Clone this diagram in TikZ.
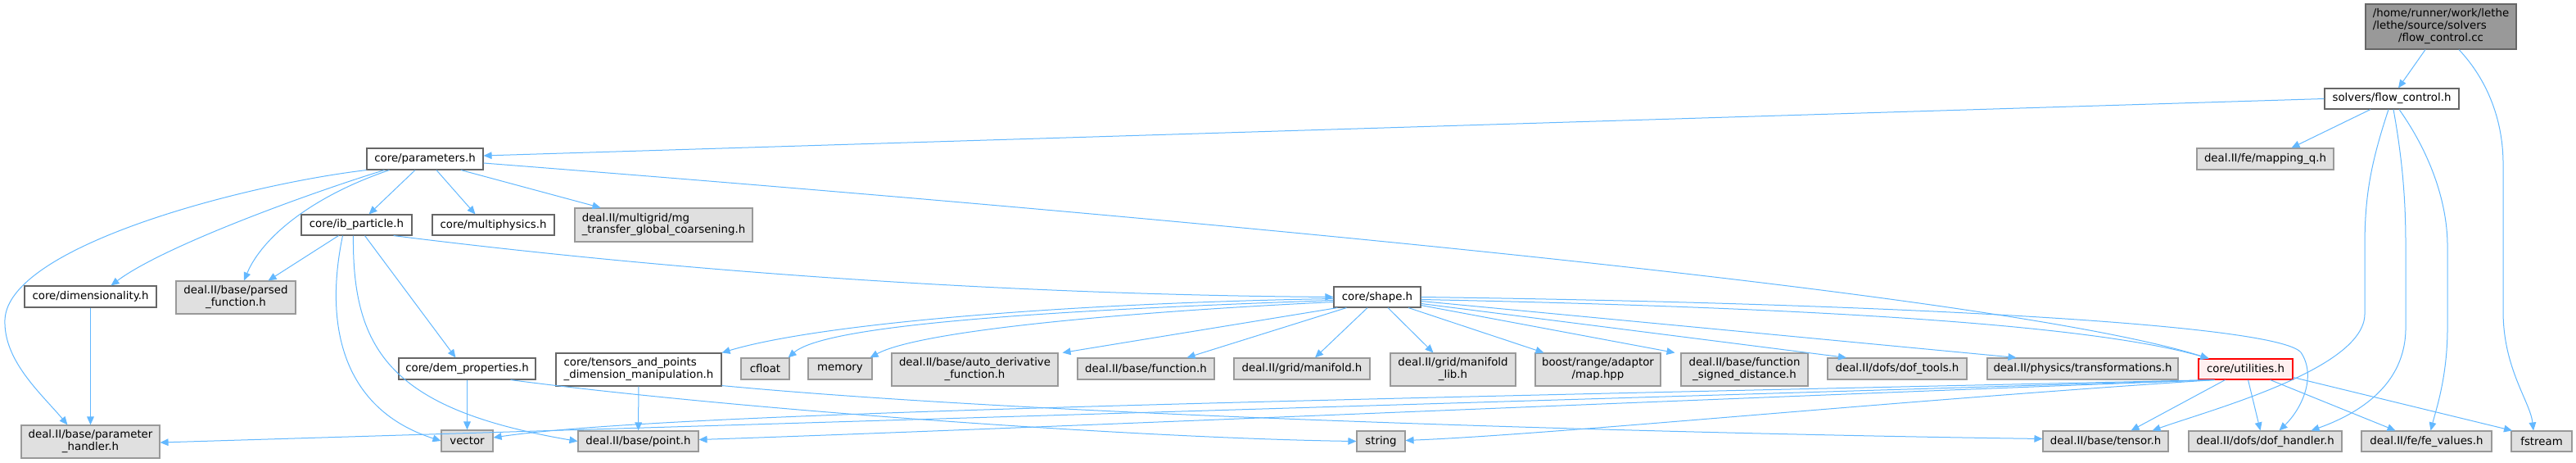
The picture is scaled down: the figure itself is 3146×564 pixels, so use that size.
\documentclass[tikz,border=0pt]{standalone}
\usepackage{fontspec}
\setmainfont{DejaVu Sans}
\usepackage{tikz}
\usetikzlibrary{arrows.meta, calc}
\usepackage{xcolor}

\definecolor{edgeblue}{HTML}{63B8FF}
\definecolor{boxgray}{HTML}{E0E0E0}
\definecolor{rootgray}{HTML}{999999}
\definecolor{lightred}{HTML}{FFF0F0}
\renewcommand{\arraystretch}{0.92}
\newcommand{\twol}[2]{\begin{tabular}{@{}l@{}}#1\\\multicolumn{1}{@{}c@{}}{#2}\end{tabular}}

\begin{document}
\begin{tikzpicture}[
  x=0.75pt, y=-0.75pt,
  dims/.style 2 args = {minimum width=#1*0.75pt, minimum height=#2*0.75pt},
  hdr/.style  = {draw=black!60, fill=white, line width=0.85pt, inner sep=0pt,
                 font=\fontsize{10}{12}\selectfont},
  ext/.style  = {hdr, draw=rootgray, fill=boxgray},
  root/.style = {hdr, draw=black!60, fill=rootgray},
  cut/.style  = {hdr, draw=red, fill=lightred},
  arr/.style  = {-{Triangle[length=7.5pt, width=6.5pt]}, draw=edgeblue, line width=0.75pt},
]
\useasboundingbox (0,0) rectangle (3146,564);

% ── Source file and its header ───────────────────────────────────────────────
\node[root, dims={184}{55}] (src) at (2981,32.5)
  {\begin{tabular}{@{}l@{}}/home/runner/work/lethe\\/lethe/source/solvers\\\multicolumn{1}{@{}c@{}}{/flow\_control.cc}\end{tabular}};
\node[hdr, dims={164}{25}] (flowh)    at (2921,120.5) {solvers/flow\_control.h};
\node[ext, dims={167}{26}] (mappingq) at (2766.5,194) {deal.II/fe/mapping\_q.h};

% ── Second and third rows ────────────────────────────────────────────────────
\node[hdr, dims={142}{26}] (params)   at (519,194)    {core/parameters.h};
\node[hdr, dims={135}{25}] (ibpart)   at (435.5,274.5) {core/ib\_particle.h};
\node[hdr, dims={149}{25}] (multiph)  at (602.5,274.5) {core/multiphysics.h};
\node[ext, dims={217}{41}] (mgtrans)  at (810.5,274.5)
  {\twol{deal.II/multigrid/mg}{\_transfer\_global\_coarsening.h}};
\node[hdr, dims={161}{26}] (dimen)    at (110.5,362)  {core/dimensionality.h};
\node[ext, dims={146}{40}] (parsedfn) at (288,363)    {\twol{deal.II/base/parsed}{\_function.h}};
\node[hdr, dims={106}{25}] (shape)    at (1682,362.5) {core/shape.h};

% ── Fourth row ───────────────────────────────────────────────────────────────
\node[hdr, dims={167}{26}] (demprop)     at (570.5,450)  {core/dem\_properties.h};
\node[hdr, dims={202}{40}] (tensorpts)   at (780,451)
  {\twol{core/tensors\_and\_points}{\_dimension\_manipulation.h}};
\node[ext, dims={59}{26}]  (cfloat)      at (934.5,450)  {cfloat};
\node[ext, dims={78}{26}]  (memory)      at (1026,450)   {memory};
\node[ext, dims={203}{40}] (autoderiv)   at (1190.5,451) {\twol{deal.II/base/auto\_derivative}{\_function.h}};
\node[ext, dims={167}{26}] (function)    at (1399.5,450) {deal.II/base/function.h};
\node[ext, dims={166}{26}] (manifold)    at (1590,450)   {deal.II/grid/manifold.h};
\node[ext, dims={153}{40}] (manifoldlib) at (1774.5,451) {\twol{deal.II/grid/manifold}{\_lib.h}};
\node[ext, dims={153}{40}] (boostmap)    at (1951.5,451) {\twol{boost/range/adaptor}{/map.hpp}};
\node[ext, dims={155}{40}] (signeddist)  at (2130.5,451) {\twol{deal.II/base/function}{\_signed\_distance.h}};
\node[ext, dims={170}{26}] (doftools)    at (2317,450)   {deal.II/dofs/dof\_tools.h};
\node[ext, dims={233}{26}] (transf)      at (2543.5,450) {deal.II/physics/transformations.h};
\node[cut, dims={115}{25}] (utilities)   at (2742.5,450.5) {core/utilities.h};

% ── Bottom row ───────────────────────────────────────────────────────────────
\node[ext, dims={169}{40}] (paramhandler) at (110.5,539)   {\twol{deal.II/base/parameter}{\_handler.h}};
\node[ext, dims={63}{26}]  (vector)       at (570.5,538)   {vector};
\node[ext, dims={147}{25}] (point)        at (779.5,538.5) {deal.II/base/point.h};
\node[ext, dims={59}{25}]  (string)       at (1686.5,538.5) {string};
\node[ext, dims={153}{25}] (tensor)       at (2571.5,538.5) {deal.II/base/tensor.h};
\node[ext, dims={187}{25}] (dofhandler)   at (2766.5,538.5) {deal.II/dofs/dof\_handler.h};
\node[ext, dims={159}{25}] (fevalues)     at (2963.5,538.5) {deal.II/fe/fe\_values.h};
\node[ext, dims={74}{25}]  (fstream)      at (3104,538.5)  {fstream};

% ── Edges from the source file and flow_control.h ────────────────────────────
\draw[arr] ($(src.south)+(-19,0)$) -- ($(flowh.north)+(8,0)$);
\draw[arr] ($(src.south)+(22,0)$) .. controls (3040,100) and (3057,150) .. (3057,200)
  -- (3057,380) .. controls (3057,450) and (3090,490) .. ($(fstream.north)+(-10,0)$);
\draw[arr] (flowh.west) -- ($(params.east)+(0,-4)$);
\draw[arr] ($(flowh.south)+(-26,0)$) -- ($(mappingq.north)+(32,0)$);
\draw[arr] ($(flowh.south)+(-4,0)$) .. controls (2895,200) and (2888,240) .. (2888,300)
  -- (2888,383) .. controls (2888,450) and (2700,500) .. ($(tensor.north)+(57,0)$);
\draw[arr] ($(flowh.south)+(2,0)$) .. controls (2935,200) and (2938,250) .. (2938,300)
  -- (2938,400) .. controls (2938,470) and (2880,505) .. ($(dofhandler.north)+(56,0)$);
\draw[arr] ($(flowh.south)+(9,0)$) .. controls (2970,190) and (2989,250) .. (2989,300)
  -- (2989,400) .. controls (2989,460) and (2975,500) .. ($(fevalues.north)+(5,0)$);

% ── Edges from core/parameters.h ─────────────────────────────────────────────
\draw[arr] (params.south west) .. controls (300,225) and (10,300) .. (6,390)
  .. controls (4,440) and (50,480) .. ($(paramhandler.north)+(-28,0)$);
\draw[arr] ($(params.south west)+(22,0)$) .. controls (380,235) and (200,300) .. ($(dimen.north)+(25,0)$);
\draw[arr] ($(params.south west)+(28,0)$) .. controls (380,240) and (320,290) .. ($(parsedfn.north)+(10,0)$);
\draw[arr] ($(params.south)+(-12,0)$) -- ($(ibpart.north)+(15,0)$);
\draw[arr] ($(params.south)+(14,0)$)  -- ($(multiph.north)+(-22,0)$);
\draw[arr] ($(params.south)+(44,0)$)  -- ($(mgtrans.north)+(-77,0)$);
\draw[arr] ($(params.east)+(0,5)$) .. controls (1500,270) and (2450,360) .. ($(utilities.north)+(-45,0)$);

% ── Edges from core/ib_particle.h ────────────────────────────────────────────
\draw[arr] ($(ibpart.south)+(-22,0)$) -- ($(parsedfn.north east)+(-34,0)$);
\draw[arr] ($(ibpart.south)+(-17,0)$) .. controls (395,400) and (420,500) .. (vector.west);
\draw[arr] ($(ibpart.south)+(-4,0)$)  .. controls (430,430) and (480,500) .. (point.west);
\draw[arr] ($(ibpart.south)+(10,0)$)  -- ($(demprop.north)+(-14,0)$);
\draw[arr] ($(ibpart.south east)+(-23,0)$) .. controls (900,340) and (1300,360) .. (shape.west);

% ── Short vertical edges ─────────────────────────────────────────────────────
\draw[arr] (dimen) -- (paramhandler);
\draw[arr] (demprop) -- (vector);
\draw[arr] (tensorpts) -- (point);
\draw[arr] ($(demprop.south east)+(-31,0)$) .. controls (900,500) and (1400,535) .. (string.west);
\draw[arr] ($(tensorpts.south east)+(0,-1)$) .. controls (1300,510) and (2100,530) .. ($(tensor.west)+(0,-3)$);

% ── Edges from core/shape.h ──────────────────────────────────────────────────
\draw[arr] ($(shape.west)+(0,2)$) .. controls (1300,370) and (1000,395) .. (tensorpts.north east);
\draw[arr] ($(shape.west)+(0,4)$) .. controls (1300,378) and (1010,395) .. ($(cfloat.north east)+(-2,0)$);
\draw[arr] ($(shape.west)+(0,6)$) .. controls (1350,382) and (1120,405) .. ($(memory.north east)+(-3,0)$);
\draw[arr] ($(shape.south west)+(5,0)$)  -- ($(autoderiv.north east)+(5,0)$);
\draw[arr] ($(shape.south west)+(16,0)$) -- ($(function.north)+(50,0)$);
\draw[arr] ($(shape.south)+(-12,0)$) -- ($(manifold.north)+(16,0)$);
\draw[arr] ($(shape.south)+(13,0)$)  -- ($(manifoldlib.north)+(-24,0)$);
\draw[arr] ($(shape.south)+(38,0)$)  -- ($(boostmap.north)+(-66,0)$);
\draw[arr] ($(shape.south east)+(0,-3)$) -- ($(signeddist.north)+(-85,0)$);
\draw[arr] ($(shape.east)+(0,8)$) -- ($(doftools.north)+(-62,0)$);
\draw[arr] ($(shape.east)+(0,5)$) -- ($(transf.north)+(-81,0)$);
\draw[arr] ($(shape.east)+(0,3)$) .. controls (2200,375) and (2550,395) .. ($(utilities.north)+(-45,0)$);
\draw[arr] (shape.east) .. controls (2300,370) and (2780,395) .. (2810,430)
  .. controls (2830,460) and (2810,500) .. ($(dofhandler.north)+(17,0)$);

% ── Edges from core/utilities.h ──────────────────────────────────────────────
\draw[arr] ($(utilities.south west)+(20,0)$) -- ($(paramhandler.east)+(0,1)$);
\draw[arr] ($(utilities.south west)+(20,0)$) .. controls (1500,490) and (800,505) .. ($(vector.east)+(0,-4)$);
\draw[arr] ($(utilities.south west)+(20,0)$) .. controls (2000,490) and (1200,525) .. ($(point.east)+(0,-2)$);
\draw[arr] ($(utilities.south west)+(20,0)$) .. controls (2300,490) and (1900,530) .. ($(string.east)+(0,-1)$);
\draw[arr] ($(utilities.south)+(-25,0)$) -- ($(tensor.north)+(31,0)$);
\draw[arr] ($(utilities.south)+(3,0)$)   -- ($(dofhandler.north)+(-6,0)$);
\draw[arr] ($(utilities.south)+(30,0)$)  -- ($(fevalues.north)+(-38,0)$);
\draw[arr] ($(utilities.east)+(0,10)$)   -- ($(fstream.north)+(-36,0)$);

\end{tikzpicture}
\end{document}
